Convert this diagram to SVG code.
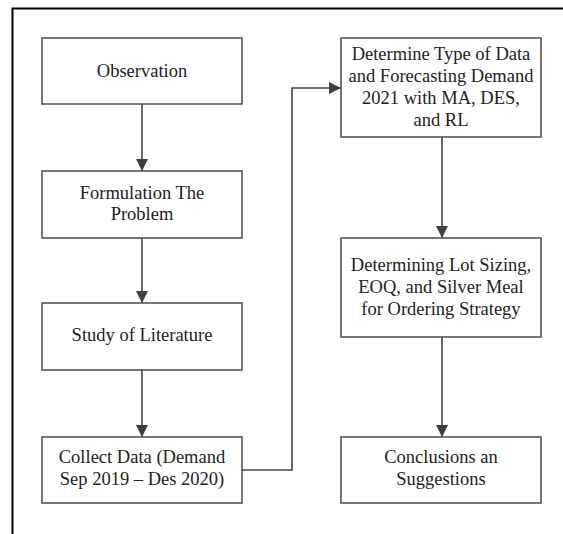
<svg xmlns="http://www.w3.org/2000/svg" width="563" height="534" viewBox="0 0 563 534">
<defs>
<marker id="arr" markerWidth="12" markerHeight="12" viewBox="0 0 12 12" refX="12" refY="6" orient="auto" markerUnits="userSpaceOnUse">
<path d="M0,0 L12,6 L0,12 Z" fill="#404040"/>
</marker>
<style>
.box{fill:#fff;stroke:#555;stroke-width:1.6}
.t{font-family:"Liberation Serif","Times New Roman",serif;font-size:18.5px;fill:#222;text-anchor:middle}
.c{fill:none;stroke:#444;stroke-width:1.6;marker-end:url(#arr)}
</style>
</defs>
<rect width="563" height="534" fill="#fff"/>
<path d="M12.5,534 L12.5,8.5 L563,8.5" fill="none" stroke="#000" stroke-width="2"/>
<g id="connectors">
<line class="c" x1="142" y1="104" x2="142" y2="171"/>
<line class="c" x1="142" y1="238" x2="142" y2="303"/>
<line class="c" x1="142" y1="370" x2="142" y2="437"/>
<path class="c" d="M242,470 L292,470 L292,88 L341,88"/>
<line class="c" x1="442" y1="137" x2="442" y2="238"/>
<line class="c" x1="442" y1="337" x2="442" y2="437"/>
</g>
<g id="observation">
<rect class="box" x="42" y="38" width="200" height="66"/>
<text class="t" x="142" y="77">Observation</text>
</g>
<g id="formulation">
<rect class="box" x="42" y="171" width="200" height="67"/>
<text class="t" x="142" y="199">Formulation The</text>
<text class="t" x="142" y="220">Problem</text>
</g>
<g id="study">
<rect class="box" x="42" y="303" width="200" height="67"/>
<text class="t" x="142" y="341">Study of Literature</text>
</g>
<g id="collect">
<rect class="box" x="42" y="437" width="200" height="66"/>
<text class="t" x="142" y="463">Collect Data (Demand</text>
<text class="t" x="142" y="485">Sep 2019 – Des 2020)</text>
</g>
<g id="determine">
<rect class="box" x="341" y="38" width="200" height="99"/>
<text class="t" x="441" y="60">Determine Type of Data</text>
<text class="t" x="441" y="82">and Forecasting Demand</text>
<text class="t" x="441" y="104">2021 with MA, DES,</text>
<text class="t" x="441" y="126">and RL</text>
</g>
<g id="lotsizing">
<rect class="box" x="341" y="238" width="200" height="99"/>
<text class="t" x="441" y="271">Determining Lot Sizing,</text>
<text class="t" x="441" y="293">EOQ, and Silver Meal</text>
<text class="t" x="441" y="315">for Ordering Strategy</text>
</g>
<g id="conclusions">
<rect class="box" x="341" y="437" width="200" height="66"/>
<text class="t" x="441" y="463">Conclusions an</text>
<text class="t" x="441" y="485">Suggestions</text>
</g>
</svg>
